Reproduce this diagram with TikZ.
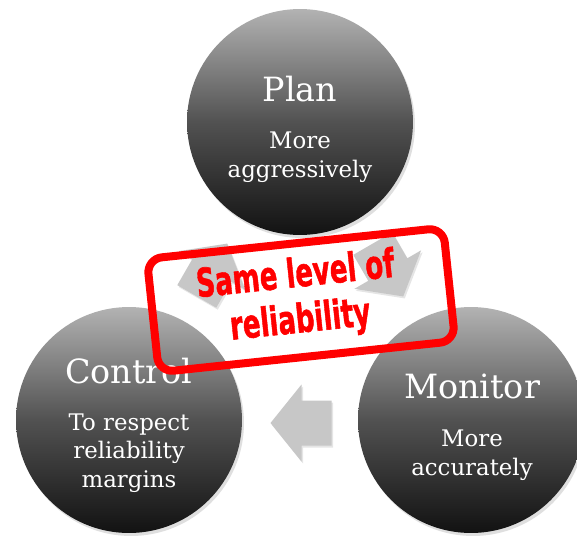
\documentclass[tikz,border=0pt]{standalone}
\usepackage{fontspec}
\newfontfamily\bubblefont{DejaVu Serif}
\newfontfamily\stampfont{DejaVu Sans}[BoldFeatures={FakeBold=1.5}]
\usetikzlibrary{shadows}

% 灰色块状箭头：中心 (#1,#2)，旋转 #3
\newcommand{\cyclearrow}[3]{%
  \fill[arrowfill, shift={(#1,#2)}, rotate=#3]
    (-30.5,0) -- (0.5,-38.5) -- (0.5,-22.5) -- (30.5,-22.5)
    -- (30.5,22.5) -- (0.5,22.5) -- (0.5,38.5) -- cycle;}

\begin{document}
\begin{tikzpicture}[
    x=0.02cm, y=-0.02cm,
    bubble/.style={circle, minimum size=4.52cm, inner sep=0pt,
      top color=black!30, bottom color=black!93, middle color=black!68,
      drop shadow={opacity=0.25, shadow xshift=0.04cm, shadow yshift=-0.06cm}},
    title/.style={font=\bubblefont\fontsize{19}{23}\selectfont, text=white, anchor=base},
    sub/.style={font=\bubblefont\fontsize{13}{16.2}\selectfont, text=white,
      align=center, anchor=base},
    arrowfill/.style={fill=black!22,
      drop shadow={opacity=0.2, shadow xshift=0.03cm, shadow yshift=-0.04cm}},
    stamp/.style={draw=red, line width=0.16cm, rounded corners=0.3cm,
      minimum width=5.96cm, minimum height=2.28cm, inner sep=0pt, rotate=6},
  ]
    % 画布
    \fill[white] (0,0) rectangle (577,537);
    \useasboundingbox (0,0) rectangle (577,537);

    % 三个圆
    \node[bubble] (plan)    at (300,122) {};
    \node[bubble] (control) at (129,420) {};
    \node[bubble] (monitor) at (471,420) {};

    % 循环箭头
    \cyclearrow{388}{270}{120}
    \cyclearrow{301}{423}{0}
    \cyclearrow{212}{270}{-120}

    % 圆内文字（多行节点的 base 在最后一行）
    \node[title] (plantitle)    at (300,101) {Plan};
    \node[sub]   (plansub)      at (300,177) {More\\aggressively};
    \node[title] (controltitle) at (129,383) {Control};
    \node[sub]   (controlsub)   at (129,487) {To respect\\reliability\\margins};
    \node[title] (monitortitle) at (472,398) {Monitor};
    \node[sub]   (monitorsub)   at (472,475) {More\\accurately};

    % 红色印章
    \node[stamp] (stampbox) at (301,300) {};
    \node[rotate=6, xscale=0.66, text=red, align=center,
      font=\stampfont\bfseries\fontsize{22.5}{26}\selectfont] (stamptext)
      at (298,299) {Same level of\\reliability};
\end{tikzpicture}
\end{document}
